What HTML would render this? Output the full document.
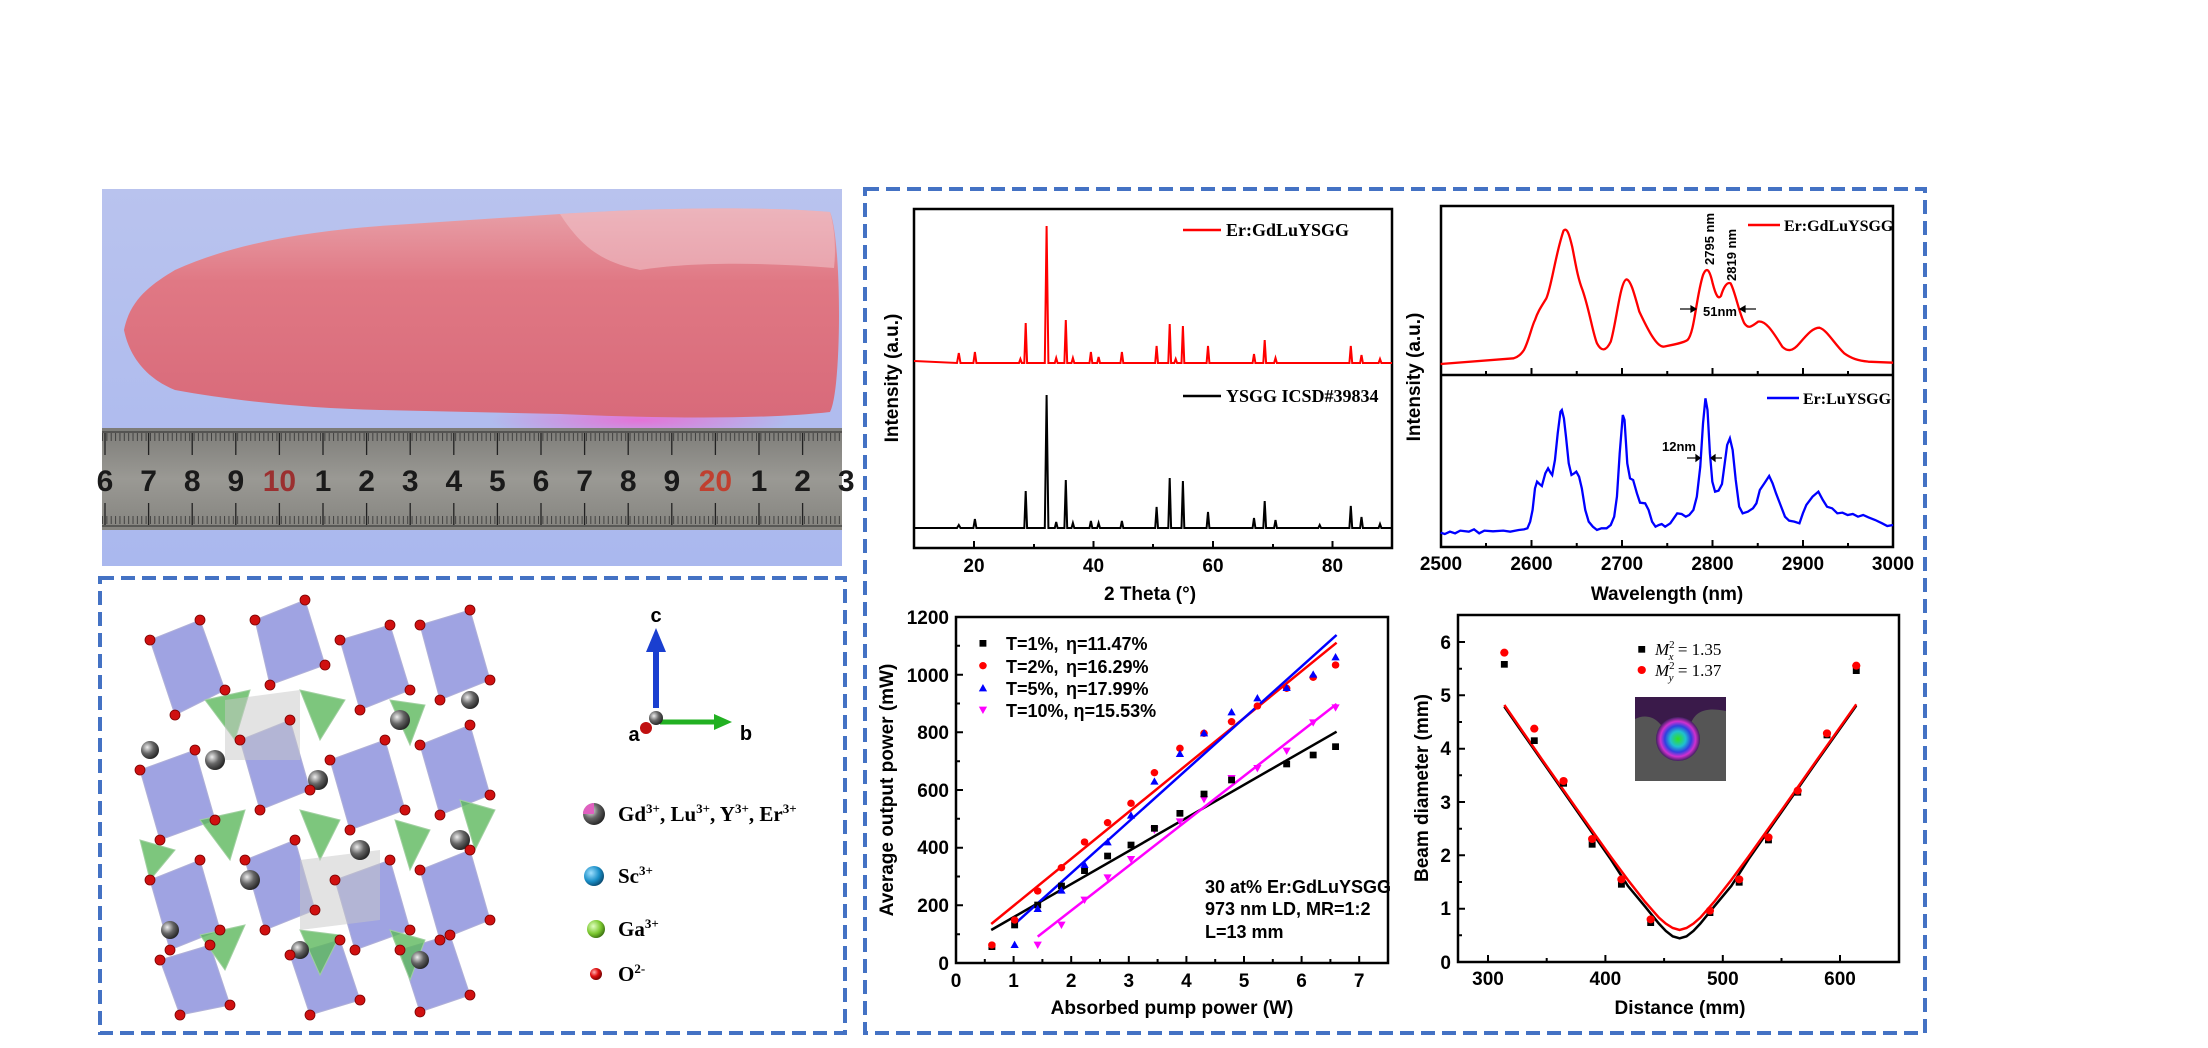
<!DOCTYPE html>
<html><head><meta charset="utf-8"><style>
html,body{margin:0;padding:0;background:#fff;}
svg{display:block;}
.t{font-family:"Liberation Sans",Arial,sans-serif;font-weight:bold;}
.s{font-family:"Liberation Serif","Times New Roman",serif;font-weight:bold;}
</style></head><body>
<svg width="2208" height="1048" viewBox="0 0 2208 1048" xmlns="http://www.w3.org/2000/svg">
<defs>
<linearGradient id="bg" x1="0" y1="0" x2="0" y2="1"><stop offset="0" stop-color="#b9c3ee"/><stop offset="1" stop-color="#aab8ee"/></linearGradient>
<linearGradient id="rod" x1="0" y1="0" x2="0" y2="1"><stop offset="0" stop-color="#e8a0a8"/><stop offset="0.35" stop-color="#e07884"/><stop offset="1" stop-color="#d86a7a"/></linearGradient>
<radialGradient id="glow" cx="0.5" cy="0.5" r="0.5"><stop offset="0" stop-color="#f060d0" stop-opacity="0.8"/><stop offset="1" stop-color="#f060d0" stop-opacity="0"/></radialGradient>
<linearGradient id="rul" x1="0" y1="0" x2="0" y2="1"><stop offset="0" stop-color="#7d7c78"/><stop offset="0.5" stop-color="#9a9994"/><stop offset="1" stop-color="#85847f"/></linearGradient>
<radialGradient id="spot" cx="0.5" cy="0.5" r="0.5"><stop offset="0" stop-color="#30e020"/><stop offset="0.35" stop-color="#20c0d0"/><stop offset="0.6" stop-color="#3040e0"/><stop offset="0.8" stop-color="#d030d0"/><stop offset="1" stop-color="#402060"/></radialGradient>
<radialGradient id="gs" cx="0.35" cy="0.35" r="0.7"><stop offset="0" stop-color="#eee"/><stop offset="0.5" stop-color="#666"/><stop offset="1" stop-color="#222"/></radialGradient>
<radialGradient id="bs" cx="0.35" cy="0.35" r="0.7"><stop offset="0" stop-color="#9fe0ff"/><stop offset="0.6" stop-color="#1a8fc8"/><stop offset="1" stop-color="#0a4a70"/></radialGradient>
<radialGradient id="grs" cx="0.35" cy="0.35" r="0.7"><stop offset="0" stop-color="#e0ffc0"/><stop offset="0.6" stop-color="#7cc830"/><stop offset="1" stop-color="#3a7010"/></radialGradient>
<radialGradient id="rs" cx="0.35" cy="0.35" r="0.7"><stop offset="0" stop-color="#ffb0b0"/><stop offset="0.5" stop-color="#e01010"/><stop offset="1" stop-color="#700000"/></radialGradient>
</defs>

<!-- Photo -->
<rect x="102" y="189" width="740" height="377" fill="url(#bg)"/>
<ellipse cx="640" cy="420" rx="150" ry="22" fill="url(#glow)"/>
<path d="M124,330 C130,300 150,285 175,270 C230,245 300,232 380,226 L560,214 C650,208 760,206 830,212 C842,240 842,390 830,412 C760,420 650,418 560,414 L380,410 C300,408 230,400 175,390 C150,380 130,360 124,330 Z" fill="url(#rod)"/>
<path d="M560,214 C650,208 760,206 830,212 C835,230 836,250 834,268 C760,262 690,262 640,270 C600,262 580,245 560,214 Z" fill="#f0c4cc" opacity="0.55"/>
<rect x="102" y="428" width="740" height="102" fill="url(#rul)"/>
<g stroke="#2a2a2a" stroke-width="1">
<path d="M102,432 H842 M102,526 H842"/>
</g>
<g class="t" font-size="30" fill="#1a1a1a" text-anchor="middle" font-weight="bold">
<text x="105" y="491">6</text><text x="148.6" y="491">7</text><text x="192.2" y="491">8</text><text x="235.8" y="491">9</text><text x="279.4" y="491" fill="#9b3030">10</text><text x="323" y="491">1</text><text x="366.6" y="491">2</text><text x="410.2" y="491">3</text><text x="453.8" y="491">4</text><text x="497.4" y="491">5</text><text x="541" y="491">6</text><text x="584.6" y="491">7</text><text x="628.2" y="491">8</text><text x="671.8" y="491">9</text><text x="715.4" y="491" fill="#c04030">20</text><text x="759" y="491">1</text><text x="802.6" y="491">2</text><text x="846.2" y="491">3</text>
</g>
<g stroke="#222" stroke-width="1.3">
<path d="M105,433 v22 M148.6,433 v22 M192.2,433 v22 M235.8,433 v22 M279.4,433 v22 M323,433 v22 M366.6,433 v22 M410.2,433 v22 M453.8,433 v22 M497.4,433 v22 M541,433 v22 M584.6,433 v22 M628.2,433 v22 M671.8,433 v22 M715.4,433 v22 M759,433 v22 M802.6,433 v22"/>
<path d="M105,525 v-22 M148.6,525 v-22 M192.2,525 v-22 M235.8,525 v-22 M279.4,525 v-22 M323,525 v-22 M366.6,525 v-22 M410.2,525 v-22 M453.8,525 v-22 M497.4,525 v-22 M541,525 v-22 M584.6,525 v-22 M628.2,525 v-22 M671.8,525 v-22 M715.4,525 v-22 M759,525 v-22 M802.6,525 v-22"/>
</g>
<path d="M102,433 H842" stroke="#333" stroke-width="8" stroke-dasharray="1 3.36" opacity="0.8" transform="translate(0,4)"/>
<path d="M102,520 H842" stroke="#333" stroke-width="8" stroke-dasharray="1 3.36" opacity="0.8"/>

<!-- dashed boxes -->
<rect x="100" y="578" width="745" height="455" fill="none" stroke="#4472c4" stroke-width="4" stroke-dasharray="14 7"/>
<rect x="865" y="189" width="1060" height="844" fill="none" stroke="#4472c4" stroke-width="4" stroke-dasharray="14 7"/>

<!-- crystal structure -->
<g>
<g fill="#7f84d8" fill-opacity="0.75" stroke="#b0b0d8" stroke-width="1">
<path d="M150,640 L200,620 L225,690 L175,715 Z"/><path d="M255,620 L305,600 L325,665 L270,685 Z"/><path d="M340,640 L390,625 L410,690 L360,710 Z"/><path d="M420,625 L470,610 L490,680 L440,700 Z"/>
<path d="M140,770 L195,750 L215,820 L160,840 Z"/><path d="M240,740 L290,720 L310,790 L260,810 Z"/><path d="M330,760 L385,740 L405,810 L350,830 Z"/><path d="M420,745 L470,725 L490,795 L440,815 Z"/>
<path d="M150,880 L200,860 L220,930 L170,950 Z"/><path d="M245,860 L295,840 L315,910 L265,930 Z"/><path d="M335,880 L390,860 L410,930 L355,950 Z"/><path d="M420,870 L470,850 L490,920 L440,940 Z"/>
<path d="M160,960 L210,945 L230,1005 L180,1015 Z"/><path d="M290,955 L340,940 L360,1000 L310,1015 Z"/><path d="M400,950 L450,935 L470,995 L420,1012 Z"/>
</g>
<g fill="#5cb85c" fill-opacity="0.8" stroke="#a0d0a0" stroke-width="1">
<path d="M205,700 L250,690 L235,740 Z"/><path d="M300,690 L345,700 L320,740 Z"/><path d="M390,700 L425,705 L410,745 Z"/>
<path d="M200,820 L245,810 L230,860 Z"/><path d="M300,810 L340,820 L320,860 Z"/><path d="M395,820 L430,830 L410,870 Z"/>
<path d="M200,935 L245,925 L225,970 Z"/><path d="M300,930 L340,935 L320,975 Z"/><path d="M390,930 L425,940 L410,980 Z"/>
<path d="M140,840 L175,850 L150,880 Z"/><path d="M460,800 L495,810 L475,850 Z"/>
</g>
<g fill="#c8c8c8" fill-opacity="0.5"><path d="M225,700 L300,690 L300,760 L225,760 Z"/><path d="M300,860 L380,850 L380,920 L300,930 Z"/></g>
<g fill="url(#gs)">
<circle cx="215" cy="760" r="10"/><circle cx="318" cy="780" r="10"/><circle cx="400" cy="720" r="10"/><circle cx="250" cy="880" r="10"/><circle cx="360" cy="850" r="10"/><circle cx="460" cy="840" r="10"/><circle cx="150" cy="750" r="9"/><circle cx="300" cy="950" r="9"/><circle cx="420" cy="960" r="9"/><circle cx="170" cy="930" r="9"/><circle cx="470" cy="700" r="9"/>
</g>
<g fill="#d01010" stroke="#700" stroke-width="0.8">
<circle cx="150" cy="640" r="5"/><circle cx="200" cy="620" r="5"/><circle cx="225" cy="690" r="5"/><circle cx="175" cy="715" r="5"/><circle cx="255" cy="620" r="5"/><circle cx="305" cy="600" r="5"/><circle cx="325" cy="665" r="5"/><circle cx="270" cy="685" r="5"/><circle cx="340" cy="640" r="5"/><circle cx="390" cy="625" r="5"/><circle cx="410" cy="690" r="5"/><circle cx="360" cy="710" r="5"/><circle cx="420" cy="625" r="5"/><circle cx="470" cy="610" r="5"/><circle cx="490" cy="680" r="5"/><circle cx="440" cy="700" r="5"/>
<circle cx="140" cy="770" r="5"/><circle cx="195" cy="750" r="5"/><circle cx="215" cy="820" r="5"/><circle cx="160" cy="840" r="5"/><circle cx="240" cy="740" r="5"/><circle cx="290" cy="720" r="5"/><circle cx="310" cy="790" r="5"/><circle cx="260" cy="810" r="5"/><circle cx="330" cy="760" r="5"/><circle cx="385" cy="740" r="5"/><circle cx="405" cy="810" r="5"/><circle cx="350" cy="830" r="5"/><circle cx="420" cy="745" r="5"/><circle cx="470" cy="725" r="5"/><circle cx="490" cy="795" r="5"/><circle cx="440" cy="815" r="5"/>
<circle cx="150" cy="880" r="5"/><circle cx="200" cy="860" r="5"/><circle cx="220" cy="930" r="5"/><circle cx="170" cy="950" r="5"/><circle cx="245" cy="860" r="5"/><circle cx="295" cy="840" r="5"/><circle cx="315" cy="910" r="5"/><circle cx="265" cy="930" r="5"/><circle cx="335" cy="880" r="5"/><circle cx="390" cy="860" r="5"/><circle cx="410" cy="930" r="5"/><circle cx="355" cy="950" r="5"/><circle cx="420" cy="870" r="5"/><circle cx="470" cy="850" r="5"/><circle cx="490" cy="920" r="5"/><circle cx="440" cy="940" r="5"/>
<circle cx="160" cy="960" r="5"/><circle cx="210" cy="945" r="5"/><circle cx="230" cy="1005" r="5"/><circle cx="180" cy="1015" r="5"/><circle cx="290" cy="955" r="5"/><circle cx="340" cy="940" r="5"/><circle cx="360" cy="1000" r="5"/><circle cx="310" cy="1015" r="5"/><circle cx="400" cy="950" r="5"/><circle cx="450" cy="935" r="5"/><circle cx="470" cy="995" r="5"/><circle cx="420" cy="1012" r="5"/>
</g>
</g>
<!-- axes glyph -->
<path d="M656,708 V648" stroke="#1a3fd0" stroke-width="6"/>
<path d="M646,652 L656,628 L666,652 Z" fill="#1a3fd0"/>
<path d="M660,722 H718" stroke="#22b022" stroke-width="5"/>
<path d="M714,714 L732,722 L714,730 Z" fill="#22b022"/>
<circle cx="656" cy="718" r="7" fill="url(#gs)"/>
<circle cx="646" cy="728" r="6" fill="#c01010"/>
<text class="t" x="656" y="622" font-size="20" text-anchor="middle">c</text>
<text class="t" x="634" y="741" font-size="20" text-anchor="middle">a</text>
<text class="t" x="746" y="740" font-size="20" text-anchor="middle">b</text>
<!-- legend -->
<circle cx="594" cy="814" r="11" fill="url(#gs)"/><path d="M594,803 A11,11 0 0 0 583,814 L594,814 Z" fill="#e060c0"/>
<circle cx="594" cy="876" r="10" fill="url(#bs)"/>
<circle cx="596" cy="929" r="9" fill="url(#grs)"/>
<circle cx="596" cy="974" r="6" fill="url(#rs)"/>
<g class="s" font-size="21">
<text x="618" y="821">Gd<tspan font-size="13" dy="-8">3+</tspan><tspan dy="8">, Lu</tspan><tspan font-size="13" dy="-8">3+</tspan><tspan dy="8">, Y</tspan><tspan font-size="13" dy="-8">3+</tspan><tspan dy="8">, Er</tspan><tspan font-size="13" dy="-8">3+</tspan></text>
<text x="618" y="883">Sc<tspan font-size="13" dy="-8">3+</tspan></text>
<text x="618" y="936">Ga<tspan font-size="13" dy="-8">3+</tspan></text>
<text x="618" y="981">O<tspan font-size="13" dy="-8">2-</tspan></text>
</g>

<!-- XRD -->
<rect x="914" y="209" width="478" height="339" fill="none" stroke="#000" stroke-width="2.5"/>
<path fill="none" stroke="#f00" stroke-width="2" d="M914,361 L957,363 L958.8,353 L960.5,363 L973.4,363 L974.9,352 L976.4,363 L1019,363 L1020.4,359 L1021.8,363 L1024.3,363 L1025.7,323 L1027.1,363 L1044.8,363 L1046.6,226 L1048.4,363 L1054.8,363 L1056.2,358 L1057.6,363 L1064.4,363 L1065.8,320 L1067.2,363 L1071.5,363 L1072.9,358 L1074.3,363 L1089.5,363 L1090.9,352 L1092.3,363 L1097.2,363 L1098.6,357 L1100,363 L1120.5,363 L1121.9,352 L1123.3,363 L1155.2,363 L1156.6,346 L1158,363 L1168.3,363 L1169.7,324 L1171.1,363 L1174.3,363 L1175.7,359 L1177.1,363 L1181.5,363 L1182.9,326 L1184.3,363 L1206.6,363 L1208,346 L1209.4,363 L1252.6,363 L1254,354 L1255.4,363 L1263.3,363 L1264.7,340 L1266.1,363 L1274.1,363 L1275.5,358 L1276.9,363 L1349.4,363 L1350.8,346 L1352.2,363 L1360.1,363 L1361.5,355 L1362.9,363 L1378.6,363 L1380,359 L1381.4,363 L1392,363"/>
<path fill="none" stroke="#000" stroke-width="2" d="M914,528 L957,528 L958.8,525 L960.5,528 L973.4,528 L974.9,519 L976.4,528 L1024.3,528 L1025.7,491 L1027.1,528 L1044.8,528 L1046.6,395 L1048.4,528 L1054.8,528 L1056.2,522 L1057.6,528 L1064.4,528 L1065.8,480 L1067.2,528 L1071.5,528 L1072.9,523 L1074.3,528 L1089.5,528 L1090.9,521 L1092.3,528 L1097.2,528 L1098.6,523 L1100,528 L1120.5,528 L1121.9,521 L1123.3,528 L1155.2,528 L1156.6,507 L1158,528 L1168.3,528 L1169.7,478 L1171.1,528 L1181.5,528 L1182.9,481 L1184.3,528 L1206.6,528 L1208,512 L1209.4,528 L1252.6,528 L1254,518 L1255.4,528 L1263.3,528 L1264.7,501 L1266.1,528 L1274.1,528 L1275.5,520 L1276.9,528 L1318.3,528 L1319.7,525 L1321.1,528 L1349.4,528 L1350.8,506 L1352.2,528 L1360.1,528 L1361.5,517 L1362.9,528 L1378.6,528 L1380,524 L1381.4,528 L1392,528"/>
<g stroke="#000" stroke-width="2"><path d="M974,548 v-7 M1093.5,548 v-7 M1213,548 v-7 M1332.5,548 v-7 M1034,548 v-4 M1153,548 v-4 M1273,548 v-4"/></g>
<g class="t" font-size="19" text-anchor="middle"><text x="974" y="572">20</text><text x="1093.5" y="572">40</text><text x="1213" y="572">60</text><text x="1332.5" y="572">80</text></g>
<text class="t" x="1150" y="600" font-size="19" text-anchor="middle">2 Theta (°)</text>
<text class="t" x="898" y="378" font-size="19" text-anchor="middle" transform="rotate(-90 898 378)">Intensity (a.u.)</text>
<path d="M1183,230 H1221" stroke="#f00" stroke-width="2.5"/>
<text class="s" x="1226" y="236" font-size="18">Er:GdLuYSGG</text>
<path d="M1183,396 H1221" stroke="#000" stroke-width="2.5"/>
<text class="s" x="1226" y="402" font-size="18">YSGG ICSD#39834</text>

<!-- Spectrum -->
<rect x="1441" y="206" width="452" height="341" fill="none" stroke="#000" stroke-width="2.5"/>
<path d="M1441,375 H1893" stroke="#000" stroke-width="2.5"/>
<g transform="translate(1400,180) scale(0.34435,0.33333)" fill="none" stroke-width="2.3">
<path stroke="#f00" vector-effect="non-scaling-stroke" d="M118,552 L330,535 C345,530 352,522 360,510 C375,480 382,440 392,420 C400,395 410,380 425,355 C440,320 452,220 475,152 C485,140 492,165 500,200 C510,250 515,290 530,330 C550,390 560,460 572,490 C585,515 598,515 612,485 C628,430 640,300 658,298 C670,300 680,340 695,395 C720,450 745,500 765,500 C790,495 820,490 835,480 C855,460 860,350 880,285 C890,260 898,265 908,310 C918,350 925,358 932,348 C940,320 950,305 960,310 C972,330 985,400 1000,430 C1012,448 1020,440 1040,425 C1060,420 1080,450 1110,500 C1125,515 1140,515 1160,490 C1185,460 1200,443 1218,443 C1240,450 1260,490 1290,520 C1310,535 1330,542 1360,545 L1432,548"/>
<path stroke="#00f" vector-effect="non-scaling-stroke" d="M118,1058 L130,1062 L145,1055 L160,1060 L175,1052 L200,1055 L215,1048 L230,1060 L245,1052 L270,1054 L300,1052 L320,1055 L345,1050 L360,1048 L370,1045 L378,1025 L385,990 L392,925 L398,905 L405,912 L412,918 L422,880 L430,865 L437,878 L442,885 L450,840 L458,760 L466,695 L470,690 L476,715 L482,770 L490,850 L498,885 L506,880 L512,875 L520,890 L528,925 L538,990 L548,1025 L560,1040 L572,1050 L585,1045 L600,1045 L612,1035 L622,1010 L630,950 L638,820 L647,705 L652,720 L660,850 L668,895 L677,900 L688,940 L697,968 L712,970 L722,990 L732,1025 L742,1040 L752,1035 L760,1032 L770,1040 L785,1030 L795,1015 L805,1000 L818,1002 L830,1010 L840,1005 L852,990 L862,950 L872,860 L880,730 L887,655 L893,690 L900,820 L907,905 L915,935 L925,932 L935,912 L943,850 L950,795 L958,775 L966,810 L975,900 L985,980 L995,1000 L1010,995 L1025,985 L1035,970 L1045,930 L1058,910 L1072,888 L1082,910 L1092,940 L1105,975 L1118,1010 L1130,1022 L1145,1025 L1160,1030 L1170,1000 L1180,975 L1198,950 L1215,935 L1228,960 L1240,980 L1255,985 L1270,1000 L1285,998 L1300,1005 L1315,1002 L1330,1010 L1345,1005 L1360,1012 L1380,1020 L1400,1030 L1415,1038 L1432,1035"/>
</g>
<g stroke="#000" stroke-width="2">
<path d="M1531.5,547 v-7 M1622,547 v-7 M1712.5,547 v-7 M1803,547 v-7 M1486,547 v-4 M1576.75,547 v-4 M1667.25,547 v-4 M1757.75,547 v-4 M1848,547 v-4"/>
<path d="M1531.5,375 v-7 M1622,375 v-7 M1712.5,375 v-7 M1803,375 v-7 M1486,375 v-4 M1576.75,375 v-4 M1667.25,375 v-4 M1757.75,375 v-4 M1848,375 v-4"/>
</g>
<g class="t" font-size="19" text-anchor="middle"><text x="1441" y="570">2500</text><text x="1531.5" y="570">2600</text><text x="1622" y="570">2700</text><text x="1712.5" y="570">2800</text><text x="1803" y="570">2900</text><text x="1893" y="570">3000</text></g>
<text class="t" x="1667" y="600" font-size="19" text-anchor="middle">Wavelength (nm)</text>
<text class="t" x="1420" y="377" font-size="19" text-anchor="middle" transform="rotate(-90 1420 377)">Intensity (a.u.)</text>
<path d="M1748,225 H1780" stroke="#f00" stroke-width="2.5"/>
<text class="s" x="1784" y="231" font-size="16">Er:GdLuYSGG</text>
<path d="M1767,398 H1799" stroke="#00f" stroke-width="2.5"/>
<text class="s" x="1803" y="404" font-size="16">Er:LuYSGG</text>
<g class="t" font-size="13">
<text x="1714" y="265" transform="rotate(-90 1714 265)">2795 nm</text>
<text x="1736" y="281" transform="rotate(-90 1736 281)">2819 nm</text>
<text x="1720" y="316" text-anchor="middle">51nm</text>
<text x="1679" y="451" text-anchor="middle">12nm</text>
</g>
<g stroke="#000" stroke-width="1.2" fill="#000">
<path d="M1680,309 H1694"/><path d="M1696,309 l-5,-3 v6 Z"/>
<path d="M1742,309 H1756"/><path d="M1740,309 l5,-3 v6 Z"/>
<path d="M1687,458 H1698"/><path d="M1700,458 l-4,-3 v6 Z"/>
<path d="M1713,458 H1722"/><path d="M1711,458 l4,-3 v6 Z"/>
</g>

<!-- Power plot -->
<rect x="956" y="617" width="432" height="346" fill="none" stroke="#000" stroke-width="2.5"/>
<g stroke="#000" stroke-width="2">
<path d="M956,963 v-7 M1013.6,963 v-7 M1071.2,963 v-7 M1128.8,963 v-7 M1186.4,963 v-7 M1244,963 v-7 M1301.6,963 v-7 M1359.2,963 v-7 M984.8,963 v-4 M1042.4,963 v-4 M1100,963 v-4 M1157.6,963 v-4 M1215.2,963 v-4 M1272.8,963 v-4 M1330.4,963 v-4"/>
<path d="M956,905.3 h7 M956,847.7 h7 M956,790 h7 M956,732.3 h7 M956,674.7 h7 M956,934.2 h4 M956,876.5 h4 M956,818.8 h4 M956,761.2 h4 M956,703.5 h4 M956,645.8 h4"/>
</g>
<g class="t" font-size="19" text-anchor="middle"><text x="956" y="987">0</text><text x="1013.6" y="987">1</text><text x="1071.2" y="987">2</text><text x="1128.8" y="987">3</text><text x="1186.4" y="987">4</text><text x="1244" y="987">5</text><text x="1301.6" y="987">6</text><text x="1359.2" y="987">7</text></g>
<g class="t" font-size="19" text-anchor="end"><text x="949" y="970">0</text><text x="949" y="912">200</text><text x="949" y="854">400</text><text x="949" y="797">600</text><text x="949" y="739">800</text><text x="949" y="682">1000</text><text x="949" y="624">1200</text></g>
<text class="t" x="1172" y="1014" font-size="19" text-anchor="middle">Absorbed pump power (W)</text>
<text class="t" x="893" y="790" font-size="19" text-anchor="middle" transform="rotate(-90 893 790)">Average output power (mW)</text>
<g transform="translate(870,600) scale(0.34435,0.33333)">
<g stroke-width="2.5" fill="none">
<path vector-effect="non-scaling-stroke" stroke="#000" d="M352,990 L1355,395"/>
<path vector-effect="non-scaling-stroke" stroke="#f00" d="M352,972 L1355,128"/>
<path vector-effect="non-scaling-stroke" stroke="#00f" d="M420,972 L1355,105"/>
<path vector-effect="non-scaling-stroke" stroke="#f0f" d="M487,1010 L1355,312"/>
</g>
<g fill="#f0f">
<path d="M475,1025 h24 l-12,22 Z"/><path d="M544,965 h24 l-12,22 Z"/><path d="M611,890 h24 l-12,22 Z"/><path d="M678,823 h24 l-12,22 Z"/><path d="M746,768 h24 l-12,22 Z"/><path d="M814,680 h24 l-12,22 Z"/><path d="M888,655 h24 l-12,22 Z"/><path d="M958,588 h24 l-12,22 Z"/><path d="M1038,525 h24 l-12,22 Z"/><path d="M1113,495 h24 l-12,22 Z"/><path d="M1198,443 h24 l-12,22 Z"/><path d="M1275,358 h24 l-12,22 Z"/><path d="M1340,313 h24 l-12,22 Z"/>
</g>
<g fill="#000">
<rect x="344" y="1030" width="20" height="20"/><rect x="410" y="965" width="20" height="20"/><rect x="477" y="905" width="20" height="20"/><rect x="546" y="848" width="20" height="20"/><rect x="613" y="802" width="20" height="20"/><rect x="680" y="758" width="20" height="20"/><rect x="748" y="725" width="20" height="20"/><rect x="816" y="675" width="20" height="20"/><rect x="890" y="630" width="20" height="20"/><rect x="960" y="572" width="20" height="20"/><rect x="1040" y="530" width="20" height="20"/><rect x="1200" y="482" width="20" height="20"/><rect x="1277" y="455" width="20" height="20"/><rect x="1342" y="430" width="20" height="20"/>
</g>
<g fill="#f00">
<circle cx="354" cy="1035" r="11"/><circle cx="420" cy="960" r="11"/><circle cx="487" cy="873" r="11"/><circle cx="556" cy="803" r="11"/><circle cx="623" cy="726" r="11"/><circle cx="690" cy="668" r="11"/><circle cx="758" cy="610" r="11"/><circle cx="826" cy="518" r="11"/><circle cx="900" cy="445" r="11"/><circle cx="970" cy="400" r="11"/><circle cx="1050" cy="365" r="11"/><circle cx="1125" cy="318" r="11"/><circle cx="1210" cy="265" r="11"/><circle cx="1287" cy="232" r="11"/><circle cx="1352" cy="195" r="11"/>
</g>
<g fill="#00f">
<path d="M408,1044 h24 l-12,-22 Z"/><path d="M475,936 h24 l-12,-22 Z"/><path d="M544,881 h24 l-12,-22 Z"/><path d="M611,804 h24 l-12,-22 Z"/><path d="M678,736 h24 l-12,-22 Z"/><path d="M746,656 h24 l-12,-22 Z"/><path d="M814,554 h24 l-12,-22 Z"/><path d="M888,471 h24 l-12,-22 Z"/><path d="M958,409 h24 l-12,-22 Z"/><path d="M1038,346 h24 l-12,-22 Z"/><path d="M1113,304 h24 l-12,-22 Z"/><path d="M1198,273 h24 l-12,-22 Z"/><path d="M1275,233 h24 l-12,-22 Z"/><path d="M1340,181 h24 l-12,-22 Z"/>
</g>
<rect x="318" y="120" width="20" height="20" fill="#000"/>
<circle cx="328" cy="197" r="11" fill="#f00"/>
<path d="M316,274 h24 l-12,-22 Z" fill="#00f"/>
<path d="M316,320 h24 l-12,22 Z" fill="#f0f"/>
</g>
<g class="t" font-size="18">
<text x="1006" y="650">T=1%,</text><text x="1066" y="650">η=11.47%</text>
<text x="1006" y="673">T=2%,</text><text x="1066" y="673">η=16.29%</text>
<text x="1006" y="695">T=5%,</text><text x="1066" y="695">η=17.99%</text>
<text x="1006" y="717">T=10%, η=15.53%</text>
<text x="1205" y="893">30 at% Er:GdLuYSGG</text>
<text x="1205" y="915">973 nm LD, MR=1:2</text>
<text x="1205" y="938">L=13 mm</text>
</g>

<!-- Beam plot -->
<rect x="1458" y="615" width="441" height="347" fill="none" stroke="#000" stroke-width="2.5"/>
<g stroke="#000" stroke-width="2">
<path d="M1488,962 v-7 M1605.4,962 v-7 M1722.8,962 v-7 M1840,962 v-7 M1546.7,962 v-4 M1664.1,962 v-4 M1781.5,962 v-4"/>
<path d="M1458,908.7 h7 M1458,855.3 h7 M1458,802 h7 M1458,748.7 h7 M1458,695.3 h7 M1458,642 h7 M1458,935.3 h4 M1458,882 h4 M1458,828.7 h4 M1458,775.3 h4 M1458,722 h4 M1458,668.7 h4"/>
</g>
<g class="t" font-size="19" text-anchor="middle"><text x="1488" y="985">300</text><text x="1605.4" y="985">400</text><text x="1722.8" y="985">500</text><text x="1840" y="985">600</text></g>
<g class="t" font-size="19" text-anchor="end"><text x="1451" y="969">0</text><text x="1451" y="915">1</text><text x="1451" y="862">2</text><text x="1451" y="809">3</text><text x="1451" y="755">4</text><text x="1451" y="702">5</text><text x="1451" y="649">6</text></g>
<text class="t" x="1680" y="1014" font-size="19" text-anchor="middle">Distance (mm)</text>
<text class="t" x="1428" y="788" font-size="19" text-anchor="middle" transform="rotate(-90 1428 788)">Beam diameter (mm)</text>
<rect x="1635" y="697" width="91" height="84" fill="#555"/>
<path d="M1635,697 h91 v14 c-20,-4 -30,0 -35,12 c-8,-4 -22,-6 -30,2 c-8,-10 -18,-10 -26,-6 Z" fill="#3a1a4a"/>
<circle cx="1678" cy="739" r="22" fill="url(#spot)"/>
<g transform="translate(1400,600) scale(0.34435,0.33333)">
<g fill="none" stroke-width="2.5">
<path vector-effect="non-scaling-stroke" stroke="#000" d="M303,320 L412,482 L512,630 L612,778 L662,858 L712,920 L752,971 L772,993 L792,1009 L812,1015 L832,1009 L852,993 L872,971 L912,920 L962,858 L1012,778 L1112,630 L1212,482 L1325,317"/>
<path vector-effect="non-scaling-stroke" stroke="#f00" d="M303,315 L412,478 L512,625 L612,770 L662,840 L712,906 L752,953 L772,971 L792,984 L812,990 L832,984 L852,971 L872,953 L912,906 L962,840 L1012,770 L1112,625 L1212,478 L1325,313"/>
</g>
<g fill="#000">
<rect x="293" y="183" width="20" height="20"/><rect x="380" y="412" width="20" height="20"/><rect x="465" y="540" width="20" height="20"/><rect x="548" y="723" width="20" height="20"/><rect x="633" y="843" width="20" height="20"/><rect x="718" y="958" width="20" height="20"/><rect x="890" y="928" width="20" height="20"/><rect x="975" y="837" width="20" height="20"/><rect x="1060" y="710" width="20" height="20"/><rect x="1145" y="567" width="20" height="20"/><rect x="1230" y="395" width="20" height="20"/><rect x="1315" y="202" width="20" height="20"/>
<rect x="692" y="138" width="20" height="20"/>
</g>
<g fill="#f00">
<circle cx="303" cy="158" r="12"/><circle cx="390" cy="386" r="12"/><circle cx="475" cy="543" r="12"/><circle cx="558" cy="717" r="12"/><circle cx="643" cy="838" r="12"/><circle cx="728" cy="958" r="12"/><circle cx="900" cy="932" r="12"/><circle cx="985" cy="838" r="12"/><circle cx="1070" cy="712" r="12"/><circle cx="1155" cy="572" r="12"/><circle cx="1240" cy="400" r="12"/><circle cx="1325" cy="197" r="12"/>
<circle cx="702" cy="210" r="12"/>
</g>
</g>
<g font-family="Liberation Serif, serif" font-size="17">
<text x="1655" y="655"><tspan font-style="italic">M</tspan><tspan font-size="11" dy="-7">2</tspan><tspan font-size="11" font-style="italic" dx="-6" dy="12">x</tspan><tspan dy="-5"> = 1.35</tspan></text>
<text x="1655" y="676"><tspan font-style="italic">M</tspan><tspan font-size="11" dy="-7">2</tspan><tspan font-size="11" font-style="italic" dx="-6" dy="12">y</tspan><tspan dy="-5"> = 1.37</tspan></text>
</g>
</svg>
</body></html>
